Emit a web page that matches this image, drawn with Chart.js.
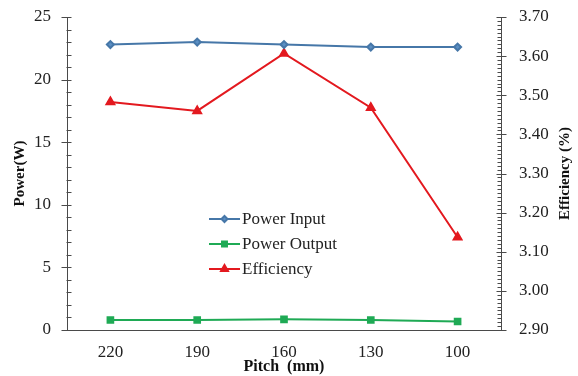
<!DOCTYPE html>
<html>
<head>
<meta charset="utf-8">
<script src="https://cdn.jsdelivr.net/npm/chart.js@4"></script>
<style>
html,body{margin:0;padding:0;background:#fff;}
#wrap{width:578px;height:376px;position:relative;}
</style>
</head>
<body>
<div id="wrap"><canvas id="c" width="578" height="376"></canvas></div>
<script>
const categories = ['220', '190', '160', '130', '100'];
const powerInput = [22.8, 23.0, 22.8, 22.6, 22.6];
const powerOutput = [0.8, 0.8, 0.85, 0.8, 0.68];
const efficiency = [3.483, 3.46, 3.607, 3.468, 3.137];
const leftTicks = [0, 5, 10, 15, 20, 25];
const rightTicks = [2.9, 3.0, 3.1, 3.2, 3.3, 3.4, 3.5, 3.6, 3.7];

const FONT = '"Liberation Serif", "Times New Roman", serif';
const AXIS = '#4a4a4a';

const minorTicks = {
  id: 'minorTicks',
  afterDatasetsDraw(chart) {
    const ctx = chart.ctx;
    ctx.save();
    ctx.strokeStyle = AXIS;
    ctx.lineWidth = 1;
    const yl = chart.scales.y;
    const xl = Math.round(yl.right) - 0.5;
    for (let v = 0; v <= 25; v += 1) {
      const p = Math.round(yl.getPixelForValue(v)) + 0.5;
      ctx.beginPath();
      if (v % 5 === 0) { ctx.moveTo(xl - 5, p); ctx.lineTo(xl + 5, p); }
      else { ctx.moveTo(xl, p); ctx.lineTo(xl + 5, p); }
      ctx.stroke();
    }
    const yr = chart.scales.y1;
    const xr = Math.round(yr.left) + 0.5;
    for (let i = 0; i <= 80; i++) {
      const v = 2.9 + i * 0.01;
      const p = Math.round(yr.getPixelForValue(v)) + 0.5;
      ctx.beginPath();
      if (i % 10 === 0) { ctx.moveTo(xr - 5, p); ctx.lineTo(xr + 5, p); }
      else { ctx.moveTo(xr - 4, p); ctx.lineTo(xr, p); }
      ctx.stroke();
    }
    // right-axis title, reading bottom to top
    const ca = chart.chartArea;
    ctx.translate(565, (ca.top + ca.bottom) / 2);
    ctx.rotate(-Math.PI / 2);
    ctx.font = 'bold 15px ' + FONT;
    ctx.fillStyle = '#111';
    ctx.textAlign = 'center';
    ctx.textBaseline = 'middle';
    ctx.fillText(chart.options.scales.y1.title.text, 0, 0);
    ctx.restore();
  }
};

const insideLegend = {
  id: 'insideLegend',
  afterDraw(chart) {
    const ctx = chart.ctx;
    const x0 = 209, x1 = 240, ys = [219, 244, 269];
    ctx.save();
    ctx.font = '17px ' + FONT;
    ctx.textBaseline = 'middle';
    chart.data.datasets.forEach((ds, i) => {
      const y = ys[i];
      ctx.strokeStyle = ds.borderColor;
      ctx.lineWidth = 2;
      ctx.beginPath(); ctx.moveTo(x0, y); ctx.lineTo(x1, y); ctx.stroke();
      ctx.fillStyle = ds.backgroundColor;
      Chart.helpers.drawPoint(ctx, {pointStyle: ds.pointStyle, radius: ds.pointRadius - 0.5, borderWidth: 1, rotation: 0}, (x0 + x1) / 2, y);
      ctx.fillStyle = '#222';
      ctx.fillText(ds.label, x1 + 2, y + 1);
    });
    ctx.restore();
  }
};

new Chart(document.getElementById('c'), {
  type: 'line',
  data: {
    labels: categories,
    datasets: [
      {label: 'Power Input', data: powerInput, yAxisID: 'y', borderColor: '#4677a8', backgroundColor: '#5b8fc4',
        borderWidth: 2, pointStyle: 'rectRot', pointRadius: 3.5, pointBorderColor: '#4677a8'},
      {label: 'Power Output', data: powerOutput, yAxisID: 'y', borderColor: '#1faa55', backgroundColor: '#1faa55',
        borderWidth: 2, pointStyle: 'rect', pointRadius: 4, pointBorderColor: '#1faa55'},
      {label: 'Efficiency', data: efficiency, yAxisID: 'y1', borderColor: '#e3191f', backgroundColor: '#e3191f',
        borderWidth: 2, pointStyle: 'triangle', pointRadius: 4.5, pointBorderColor: '#e3191f'}
    ]
  },
  options: {
    responsive: false,
    animation: false,
    devicePixelRatio: 1,
    layout: {padding: {top: 17, left: 0, right: 0, bottom: 0}},
    plugins: {legend: {display: false}, tooltip: {enabled: false}},
    elements: {line: {tension: 0}},
    scales: {
      x: {
        offset: true,
        grid: {display: false},
        border: {display: true, color: AXIS, width: 1},
        ticks: {color: '#222', font: {family: FONT, size: 17}, padding: 4},
        title: {display: true, text: 'Pitch  (mm)', color: '#111', font: {family: FONT, size: 16, weight: 'bold'}, padding: {top: 0, bottom: 0}},
        afterFit(s) { s.height = 46; }
      },
      y: {
        position: 'left', min: 0, max: 25,
        afterBuildTicks(s) { s.ticks = leftTicks.map(v => ({value: v})); },
        grid: {display: false},
        border: {display: true, color: AXIS, width: 1},
        ticks: {color: '#222', font: {family: FONT, size: 17}, padding: 8},
        title: {display: true, text: 'Power(W)', color: '#111', font: {family: FONT, size: 15, weight: 'bold'}, padding: {top: 11, bottom: 0}},
        afterFit(s) { s.width = 67; s.paddingTop = 0; s.paddingBottom = 0; }
      },
      y1: {
        position: 'right', min: 2.9, max: 3.7,
        afterBuildTicks(s) { s.ticks = rightTicks.map(v => ({value: v})); },
        grid: {display: false},
        border: {display: true, color: AXIS, width: 1},
        ticks: {color: '#222', font: {family: FONT, size: 17}, padding: 10, callback: v => Number(v).toFixed(2)},
        title: {display: false, text: 'Efficiency (%)'},
        afterFit(s) { s.width = 77; s.paddingTop = 0; s.paddingBottom = 0; }
      }
    }
  },
  plugins: [minorTicks, insideLegend]
});
</script>
</body>
</html>
